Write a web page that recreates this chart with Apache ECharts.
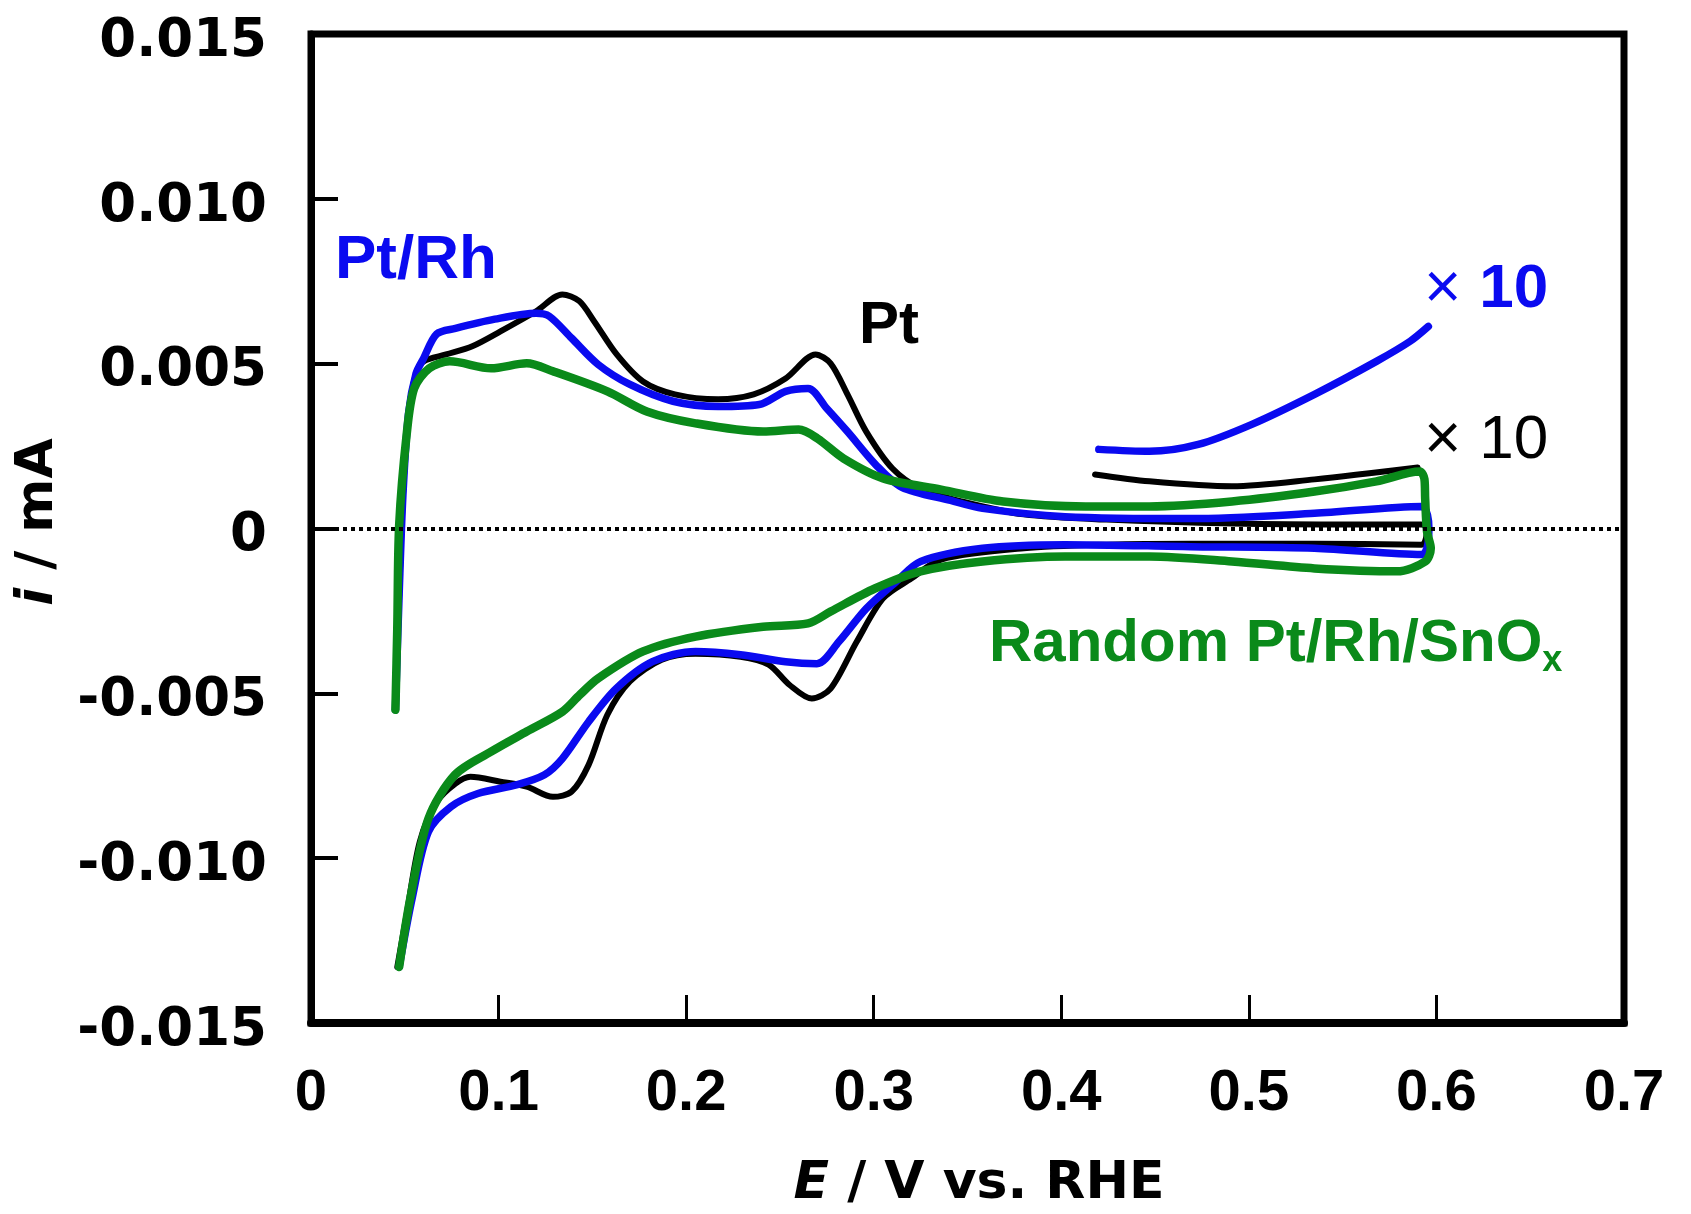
<!DOCTYPE html>
<html>
<head>
<meta charset="utf-8">
<script src="https://cdn.jsdelivr.net/npm/echarts@6/dist/echarts.min.js"></script>
<style>
  html, body { margin: 0; padding: 0; background: #fff; }
  #chart { width: 1691px; height: 1214px; }
</style>
</head>
<body>
<div id="chart"></div>
<script>
// axis ticks
var xTicks = [0, 0.1, 0.2, 0.3, 0.4, 0.5, 0.6, 0.7]
var yTicks = [-0.015, -0.010, -0.005, 0, 0.005, 0.010, 0.015]

// Pt (black) - anodic then cathodic sweep, [E, i]
var ptAnodic = [
    [0.045, -0.0055], [0.047, -0.002], [0.049, 0.001], [0.052, 0.0035], [0.056, 0.0047],
    [0.060, 0.00507], [0.072, 0.00528], [0.086, 0.00553], [0.101, 0.00598], [0.120, 0.00659],
    [0.134, 0.0071], [0.143, 0.0069], [0.151, 0.00628], [0.163, 0.00528], [0.177, 0.00446],
    [0.194, 0.00407], [0.217, 0.00392], [0.236, 0.00407], [0.253, 0.00455], [0.269, 0.00528],
    [0.277, 0.00501], [0.286, 0.00407], [0.296, 0.00294], [0.310, 0.00182], [0.325, 0.00121],
    [0.347, 0.00082], [0.380, 0.00043], [0.424, 0.00027], [0.491, 0.00015], [0.557, 0.00012],
    [0.592, 0.00012]
]
var ptCathodic = [
    [0.595, 0.0], [0.592, -0.00049], [0.535, -0.00046], [0.469, -0.00046], [0.424, -0.00049],
    [0.380, -0.0006], [0.336, -0.00094], [0.320, -0.00152], [0.305, -0.00212], [0.291, -0.00343],
    [0.277, -0.00486], [0.267, -0.00516], [0.255, -0.00474], [0.244, -0.00413], [0.229, -0.00389],
    [0.205, -0.0038], [0.187, -0.00398], [0.170, -0.00464], [0.158, -0.00565], [0.148, -0.00717],
    [0.139, -0.00798], [0.129, -0.00814], [0.115, -0.00783], [0.101, -0.00768], [0.085, -0.00753],
    [0.077, -0.00774], [0.067, -0.0083], [0.058, -0.0095], [0.051, -0.0117], [0.046, -0.0133]
]
var ptX10 = [
    [0.418, 0.00164], [0.447, 0.00143], [0.491, 0.00128], [0.535, 0.00149], [0.590, 0.00185]
]

// Pt/Rh (blue)
var ptRhAnodic = [
    [0.045, -0.0055], [0.047, -0.002], [0.049, 0.001], [0.052, 0.0035], [0.056, 0.0047],
    [0.060, 0.00516], [0.067, 0.0059], [0.077, 0.00607], [0.098, 0.00635], [0.120, 0.00653],
    [0.127, 0.00644], [0.139, 0.00577], [0.153, 0.00498], [0.170, 0.00437], [0.193, 0.00386],
    [0.217, 0.0037], [0.239, 0.00376], [0.253, 0.00416], [0.265, 0.00425], [0.275, 0.00364],
    [0.286, 0.00294], [0.301, 0.00194], [0.315, 0.00125], [0.341, 0.00085], [0.358, 0.00061],
    [0.402, 0.00036], [0.469, 0.0003], [0.535, 0.00046], [0.592, 0.00067]
]
var ptRhCathodic = [
    [0.596, 0.0], [0.592, -0.00079], [0.535, -0.0006], [0.469, -0.00055], [0.402, -0.00049],
    [0.358, -0.0006], [0.325, -0.001], [0.312, -0.00161], [0.296, -0.00243], [0.2815, -0.00343],
    [0.2697, -0.0041], [0.253, -0.00404], [0.229, -0.00383], [0.205, -0.00373], [0.182, -0.00404],
    [0.1626, -0.00486], [0.148, -0.00586], [0.134, -0.00698], [0.1245, -0.00747], [0.110, -0.00777],
    [0.089, -0.00804], [0.0746, -0.00844], [0.0626, -0.0092], [0.054, -0.0112], [0.047, -0.0133]
]
var ptRhX10 = [
    [0.420, 0.0024], [0.447, 0.00234], [0.473, 0.00255], [0.5016, 0.00316], [0.535, 0.00407],
    [0.568, 0.00507], [0.586, 0.00568], [0.5957, 0.00613]
]

// Random Pt/Rh/SnOx (green)
var snAnodic = [
    [0.045, -0.0055], [0.046, -0.003], [0.047, 0.0001], [0.051, 0.00285], [0.055, 0.00425],
    [0.063, 0.00486], [0.074, 0.00507], [0.096, 0.00486], [0.115, 0.00501], [0.129, 0.00477],
    [0.158, 0.00416], [0.179, 0.00355], [0.205, 0.00319], [0.241, 0.00294], [0.260, 0.003],
    [0.270, 0.00273], [0.284, 0.00212], [0.305, 0.00152], [0.336, 0.00118], [0.369, 0.00082],
    [0.413, 0.00067], [0.447, 0.00067], [0.491, 0.00082], [0.535, 0.00112], [0.568, 0.00143],
    [0.591, 0.00173], [0.5936, 0.0015], [0.594, 0.0009], [0.595, -0.0001], [0.597, -0.0006]
]
var snCathodic = [
    [0.594, -0.001], [0.579, -0.0013], [0.535, -0.00121], [0.491, -0.001], [0.447, -0.00085],
    [0.402, -0.00085], [0.358, -0.001], [0.325, -0.0013], [0.3006, -0.00182], [0.277, -0.00252],
    [0.265, -0.00288], [0.241, -0.00298], [0.205, -0.00328], [0.177, -0.00373], [0.153, -0.00455],
    [0.1434, -0.00504], [0.134, -0.00556], [0.115, -0.00616], [0.096, -0.00677], [0.0768, -0.00747],
    [0.0626, -0.0088], [0.053, -0.0112], [0.047, -0.0133]
]

var BLUE = '#0a0af0'
var GREEN = '#0a8a1a'
var WIDE_FONT = 'DejaVu Sans'
var ARIAL = 'Liberation Sans'

function cvSeries(name, data, color, width, z) {
    return {
        name: name,
        type: 'line',
        data: data,
        showSymbol: false,
        smooth: 0.3,
        z: z,
        lineStyle: { color: color, width: width, cap: 'round', join: 'round' }
    }
}

var myChart = echarts.init(document.getElementById('chart'))

myChart.setOption({
    animation: false,
    backgroundColor: '#fff',
    grid: {
        left: 311, top: 34, right: 67, bottom: 191,
        show: true, borderColor: '#000', borderWidth: 7
    },
    xAxis: {
        type: 'value',
        min: xTicks[0], max: xTicks[xTicks.length - 1], interval: 0.1,
        splitLine: { show: false },
        axisLine: { onZero: false, lineStyle: { color: '#000', width: 8 } },
        axisTick: { inside: true, length: 28, lineStyle: { color: '#000', width: 3 } },
        axisLabel: {
            margin: 42, color: '#000', fontFamily: ARIAL, fontWeight: 'bold', fontSize: 58,
            formatter: function (v) { return Math.abs(v) < 1e-9 ? '0' : v.toFixed(1) }
        }
    },
    yAxis: {
        type: 'value',
        min: yTicks[0], max: yTicks[yTicks.length - 1], interval: 0.005,
        splitLine: { show: false },
        axisLine: { onZero: false, lineStyle: { color: '#000', width: 7 } },
        axisTick: { inside: true, length: 27, lineStyle: { color: '#000', width: 4 } },
        axisLabel: {
            margin: 44,
            formatter: function (v) { return '{v|' + (Math.abs(v) < 1e-9 ? '0' : v.toFixed(3)) + '}' },
            rich: {
                v: {
                    color: '#000', fontFamily: WIDE_FONT, fontWeight: 'bold', fontSize: 53,
                    padding: [16, 0, 0, 0]
                }
            }
        }
    },
    series: [
        {
            type: 'line', data: [], z: 1,
            markLine: {
                silent: true, symbol: 'none', label: { show: false },
                lineStyle: { color: '#000', type: 'dotted', width: 4 },
                data: [{ yAxis: 0 }]
            }
        },
        cvSeries('Pt', ptAnodic.concat(ptCathodic), '#000', 6, 2),
        cvSeries('Pt x10', ptX10, '#000', 6, 2),
        cvSeries('Pt/Rh', ptRhAnodic.concat(ptRhCathodic), BLUE, 7.5, 3),
        cvSeries('Pt/Rh x10', ptRhX10, BLUE, 7.5, 3),
        cvSeries('Random Pt/Rh/SnOx', snAnodic.concat(snCathodic), GREEN, 8.5, 4)
    ],
    graphic: [
        {
            type: 'text', x: 38, y: 522, rotation: Math.PI / 2, z: 10,
            style: {
                text: '{i|i}{r| / mA}', align: 'center', verticalAlign: 'middle',
                rich: {
                    i: { fontFamily: WIDE_FONT, fontWeight: 'bold', fontStyle: 'italic', fontSize: 52, fill: '#000' },
                    r: { fontFamily: WIDE_FONT, fontWeight: 'bold', fontSize: 52, fill: '#000' }
                }
            }
        },
        {
            type: 'text', x: 979, y: 1184, z: 10,
            style: {
                text: '{i|E}{r| / V vs. RHE}', align: 'center', verticalAlign: 'middle',
                rich: {
                    i: { fontFamily: WIDE_FONT, fontWeight: 'bold', fontStyle: 'italic', fontSize: 52, fill: '#000' },
                    r: { fontFamily: WIDE_FONT, fontWeight: 'bold', fontSize: 52, fill: '#000' }
                }
            }
        },
        {
            type: 'text', x: 335, y: 261, z: 10,
            style: {
                text: 'Pt/Rh', align: 'left', verticalAlign: 'middle', fill: BLUE,
                fontFamily: ARIAL, fontWeight: 'bold', fontSize: 62
            }
        },
        {
            type: 'text', x: 859, y: 326, z: 10,
            style: {
                text: 'Pt', align: 'left', verticalAlign: 'middle', fill: '#000',
                fontFamily: ARIAL, fontWeight: 'bold', fontSize: 60
            }
        },
        {
            type: 'text', x: 1424, y: 290, z: 10,
            style: {
                text: '{m|× }{n|10}', align: 'left', verticalAlign: 'middle',
                rich: {
                    m: { fontFamily: ARIAL, fontSize: 64, fill: BLUE },
                    n: { fontFamily: ARIAL, fontWeight: 'bold', fontSize: 62, fill: BLUE }
                }
            }
        },
        {
            type: 'text', x: 1424, y: 441, z: 10,
            style: {
                text: '{m|× }{n|10}', align: 'left', verticalAlign: 'middle',
                rich: {
                    m: { fontFamily: ARIAL, fontSize: 64, fill: '#000' },
                    n: { fontFamily: ARIAL, fontSize: 62, fill: '#000' }
                }
            }
        },
        {
            type: 'text', x: 989, y: 644, z: 10,
            style: {
                text: '{a|Random Pt/Rh/SnO}{s|x}', align: 'left', verticalAlign: 'middle',
                rich: {
                    a: { fontFamily: ARIAL, fontWeight: 'bold', fontSize: 60, fill: GREEN },
                    s: { fontFamily: ARIAL, fontWeight: 'bold', fontSize: 36, fill: GREEN, padding: [34, 0, 0, 0] }
                }
            }
        }
    ]
})
</script>
</body>
</html>
